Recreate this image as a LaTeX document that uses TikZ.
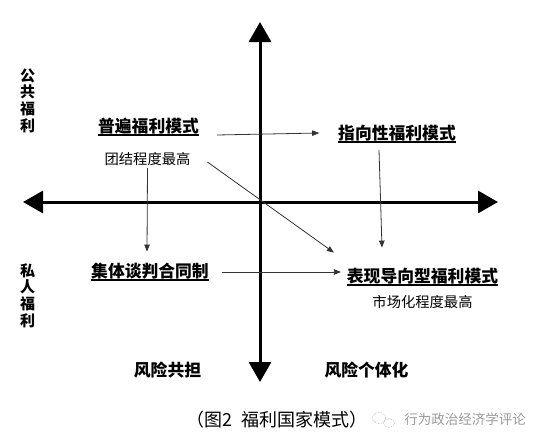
\documentclass[tikz,border=0pt]{standalone}
\usepackage{fontspec}
\setmainfont{Noto Sans CJK SC}
\newfontfamily\cjk{Noto Sans CJK SC}
\usetikzlibrary{arrows.meta}
\newsavebox{\ulbox}
\newcommand{\uln}[1]{\sbox{\ulbox}{#1}\rlap{\rule[-3.8pt]{\wd\ulbox}{1.4pt}}\usebox{\ulbox}}
\newcommand{\fsz}[1]{\fontsize{#1}{#1}\selectfont}

\begin{document}
\begin{tikzpicture}[
    x=1pt, y=-1pt,
    font=\cjk,
      model/.style={anchor=base, inner sep=0pt, outer sep=0pt, font=\cjk\bfseries\fsz{16.8}},
      remark/.style={anchor=base, inner sep=0pt, outer sep=0pt, font=\cjk\fsz{14.3}},
      risk/.style={anchor=base, inner sep=0pt, outer sep=0pt, font=\cjk\bfseries\fsz{16.8}},
      side/.style={align=center, inner sep=0pt, font=\cjk\bfseries\fontsize{15}{16.6}\selectfont},
      axis/.style={{Triangle[length=20pt,width=22pt]}-{Triangle[length=20pt,width=22pt]}, line width=3pt, black},
      arrow/.style={-{Triangle[length=7pt,width=5.5pt]}, line width=0.8pt, black!80}
    ]
      \useasboundingbox (0,0) rectangle (536,447);

      % axes
      \coordinate (north) at (260,22);
      \coordinate (south) at (260,382);
      \coordinate (west) at (23,202);
      \coordinate (east) at (498,202);
      \draw[axis] (south) -- (north);
      \draw[axis] (west) -- (east);

      \node[side] (public) at (27.5,100.5) {公\\共\\福\\利};
      \node[side] (private) at (27.5,295.5) {私\\人\\福\\利};

      \node[model] (universal) at (148.5,132) {\uln{普遍福利模式}};
      \node[remark] (solidarity) at (147.5,164) {团结程度最高};
      \node[model] (directed) at (397,139) {\uln{指向性福利模式}};
      \node[model] (collective) at (150,277) {\uln{集体谈判合同制}};
      \node[model] (performance) at (422.5,282) {\uln{表现导向型福利模式}};
      \node[remark] (market) at (422.5,307) {市场化程度最高};

      \node[risk] (shared) at (167.5,376) {风险共担};
      \node[risk] (individual) at (366.5,376) {风险个体化};

      \node[anchor=base, inner sep=0pt, font=\cjk\fsz{18}] (caption) at (277,426.5) {（图2\ \ 福利国家模式）};
      \node[anchor=base, inner sep=0pt, font=\cjk\fsz{13.5}, text=black!40] (source) at (465,424.5) {行为政治经济学评论};
      \draw[black!30, line width=0.6pt, densely dotted] (379,418) ellipse (6.5 and 5.5);
      \draw[black!30, line width=0.6pt, densely dotted] (389,423) ellipse (5.5 and 4.5);

      \draw[arrow] ([xshift=18pt,yshift=-3pt]universal.base east) -- ([xshift=-19pt,yshift=6pt]directed.base west);
      \draw[arrow] ([xshift=17pt,yshift=2pt]solidarity.base east) -- ([xshift=-13pt,yshift=15pt]performance.north west);
      \draw[arrow] ([yshift=-3pt]solidarity.south) -- ([xshift=-3pt,yshift=11pt]collective.north);
      \draw[arrow] ([xshift=-18pt,yshift=-7pt]directed.south) -- ([xshift=-40.5pt,yshift=20pt]performance.north);
      \draw[arrow] ([xshift=13pt,yshift=5pt]collective.base east) -- ([xshift=-6pt,yshift=10pt]performance.base west);
    \end{tikzpicture}
\end{document}
